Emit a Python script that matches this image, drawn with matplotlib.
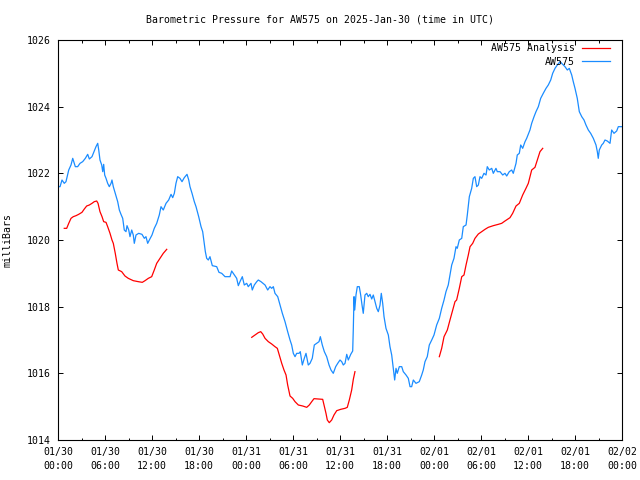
import matplotlib
matplotlib.use('Agg')
import matplotlib.pyplot as plt
from matplotlib.ticker import MultipleLocator

# hours since 2025-01-30 00:00 UTC
obs_hours = [
    0.0, 0.26, 0.51, 0.80, 1.02, 1.37, 1.66, 1.88, 2.08, 2.21, 2.51, 2.81, 3.15, 3.49, 3.79,
    4.00, 4.34, 4.63, 4.85, 5.07, 5.20, 5.36, 5.58, 5.71, 5.83, 5.96, 6.13, 6.34, 6.55, 6.77,
    6.89, 7.06, 7.31, 7.62, 7.83, 8.04, 8.26, 8.46, 8.68, 8.81, 9.03, 9.19, 9.41, 9.61, 9.74,
    9.96, 10.30, 10.72, 11.02, 11.23, 11.45, 11.66, 12.00, 12.29, 12.60, 12.93, 13.15, 13.44,
    13.79, 14.13, 14.43, 14.64, 14.85, 15.06, 15.28, 15.57, 15.83, 16.12, 16.47, 16.69, 16.85,
    17.11, 17.40, 17.62, 17.96, 18.26, 18.47, 18.81, 18.98, 19.19, 19.40, 19.70, 20.26, 20.55,
    20.90, 21.32, 21.96, 22.17, 22.51, 22.81, 23.02, 23.23, 23.53, 23.78, 24.09, 24.29, 24.64,
    24.80, 25.06, 25.37, 25.57, 25.91, 26.43, 26.77, 27.06, 27.28, 27.49, 27.70, 28.05, 28.34,
    28.64, 28.98, 29.32, 29.62, 29.83, 30.04, 30.26, 30.47, 30.77, 30.93, 31.19, 31.44, 31.66,
    31.95, 32.17, 32.46, 32.72, 33.03, 33.32, 33.49, 33.74, 34.00, 34.30, 34.60, 34.85, 35.14,
    35.45, 35.71, 36.00, 36.22, 36.42, 36.64, 36.86, 37.06, 37.37, 37.62, 37.70, 37.79, 37.88,
    38.04, 38.21, 38.46, 38.64, 38.81, 38.97, 39.19, 39.41, 39.61, 39.83, 40.05, 40.25, 40.47,
    40.69, 40.89, 41.11, 41.27, 41.45, 41.62, 41.87, 42.17, 42.38, 42.60, 42.80, 42.98, 43.15,
    43.31, 43.57, 43.88, 44.08, 44.43, 44.72, 44.94, 45.15, 45.36, 45.70, 46.12, 46.43, 46.63,
    46.85, 47.14, 47.40, 47.71, 48.00, 48.34, 48.68, 48.98, 49.28, 49.53, 49.82, 50.04, 50.26,
    50.55, 50.81, 50.97, 51.23, 51.54, 51.74, 52.09, 52.25, 52.51, 52.81, 53.02, 53.23, 53.45,
    53.66, 53.87, 54.09, 54.38, 54.64, 54.80, 55.06, 55.37, 55.57, 55.91, 56.08, 56.43, 56.77,
    57.06, 57.28, 57.61, 57.92, 58.12, 58.47, 58.63, 58.89, 59.07, 59.32, 59.62, 59.83, 60.25,
    60.47, 60.77, 61.02, 61.32, 61.62, 61.95, 62.30, 62.59, 62.90, 63.15, 63.45, 63.74, 64.09,
    64.43, 64.72, 65.02, 65.27, 65.58, 65.78, 66.00, 66.29, 66.55, 66.86, 67.15, 67.40, 67.70,
    68.00, 68.34, 68.68, 68.85, 68.97, 69.10, 69.41, 69.61, 69.83, 70.12, 70.47, 70.68, 70.98,
    71.32, 71.53, 71.96,
]
obs_mb = [
    1021.60, 1021.60, 1021.80, 1021.70, 1021.75, 1022.10, 1022.25, 1022.45, 1022.30, 1022.20,
    1022.20, 1022.30, 1022.35, 1022.45, 1022.57, 1022.43, 1022.50, 1022.67, 1022.80, 1022.90,
    1022.70, 1022.40, 1022.25, 1022.05, 1022.27, 1021.95, 1021.85, 1021.70, 1021.60, 1021.70,
    1021.80, 1021.60, 1021.40, 1021.15, 1020.90, 1020.77, 1020.65, 1020.30, 1020.25, 1020.43,
    1020.30, 1020.10, 1020.30, 1020.15, 1019.90, 1020.15, 1020.20, 1020.17, 1020.05, 1020.10,
    1019.90, 1020.00, 1020.15, 1020.35, 1020.50, 1020.75, 1021.00, 1020.90, 1021.10, 1021.20,
    1021.37, 1021.27, 1021.40, 1021.70, 1021.90, 1021.85, 1021.75, 1021.87, 1021.97, 1021.80,
    1021.60, 1021.40, 1021.15, 1021.00, 1020.70, 1020.40, 1020.25, 1019.65, 1019.45, 1019.40,
    1019.50, 1019.23, 1019.20, 1019.03, 1019.00, 1018.90, 1018.90, 1019.07, 1018.95, 1018.85,
    1018.63, 1018.75, 1018.90, 1018.65, 1018.70, 1018.60, 1018.70, 1018.50, 1018.65, 1018.75,
    1018.80, 1018.75, 1018.65, 1018.50, 1018.60, 1018.55, 1018.60, 1018.40, 1018.30, 1018.05,
    1017.80, 1017.55, 1017.25, 1017.00, 1016.85, 1016.60, 1016.50, 1016.60, 1016.60, 1016.65,
    1016.25, 1016.45, 1016.60, 1016.25, 1016.30, 1016.45, 1016.85, 1016.90, 1016.95, 1017.10,
    1016.85, 1016.65, 1016.50, 1016.25, 1016.10, 1016.00, 1016.20, 1016.30, 1016.40, 1016.35,
    1016.25, 1016.30, 1016.57, 1016.40, 1016.57, 1016.67, 1017.35, 1018.30, 1017.90, 1018.35,
    1018.60, 1018.60, 1018.35, 1018.05, 1017.80, 1018.35, 1018.40, 1018.30, 1018.37, 1018.23,
    1018.35, 1018.15, 1017.95, 1017.85, 1018.05, 1018.40, 1018.10, 1017.70, 1017.35, 1017.15,
    1016.80, 1016.55, 1016.15, 1015.80, 1016.15, 1016.00, 1016.20, 1016.20, 1016.05, 1015.95,
    1015.85, 1015.60, 1015.60, 1015.80, 1015.70, 1015.75, 1015.95, 1016.10, 1016.35, 1016.50,
    1016.85, 1017.00, 1017.15, 1017.45, 1017.65, 1017.95, 1018.20, 1018.45, 1018.65, 1018.95,
    1019.25, 1019.45, 1019.80, 1019.75, 1020.00, 1020.05, 1020.40, 1020.45, 1020.75, 1021.30,
    1021.55, 1021.85, 1021.90, 1021.60, 1021.65, 1021.90, 1021.85, 1022.00, 1021.95, 1022.20,
    1022.10, 1022.15, 1022.00, 1022.15, 1022.05, 1022.05, 1021.95, 1022.00, 1021.92, 1022.05,
    1022.10, 1022.00, 1022.30, 1022.55, 1022.60, 1022.85, 1022.75, 1022.95, 1023.05, 1023.30,
    1023.50, 1023.70, 1023.85, 1024.00, 1024.25, 1024.40, 1024.55, 1024.65, 1024.80, 1025.00,
    1025.15, 1025.25, 1025.35, 1025.27, 1025.20, 1025.10, 1025.15, 1024.95, 1024.75, 1024.55,
    1024.25, 1023.85, 1023.70, 1023.60, 1023.45, 1023.30, 1023.20, 1023.05, 1022.85, 1022.65,
    1022.45, 1022.70, 1022.85, 1022.90, 1023.00, 1022.97, 1022.90, 1023.30, 1023.20, 1023.27,
    1023.40, 1023.40,
]

# analysis runs (three separate segments)
ana1_hours = [0.80, 1.11, 1.37, 1.66, 1.95, 2.30, 2.64, 3.06, 3.36, 3.66, 4.00, 4.34, 4.63, 4.94,
              5.11, 5.36, 5.62, 5.83, 6.13, 6.34, 6.64, 6.89, 7.06, 7.31, 7.53, 7.70, 8.13, 8.55,
              8.97, 9.61, 10.25, 10.76, 11.11, 11.53, 11.96, 12.29, 12.60, 13.02, 13.44, 13.88]
ana1_mb = [1020.35, 1020.35, 1020.50, 1020.65, 1020.70, 1020.73, 1020.77, 1020.83, 1020.93,
           1021.02, 1021.05, 1021.10, 1021.15, 1021.17, 1021.10, 1020.85, 1020.70, 1020.55,
           1020.53, 1020.40, 1020.20, 1020.00, 1019.90, 1019.60, 1019.30, 1019.10, 1019.05,
           1018.92, 1018.85, 1018.78, 1018.75, 1018.73, 1018.78, 1018.85, 1018.90, 1019.10,
           1019.30, 1019.45, 1019.60, 1019.72]

ana2_hours = [24.73, 25.15, 25.57, 25.88, 26.13, 26.43, 26.85, 27.28, 27.70, 28.00, 28.25, 28.56,
              28.85, 29.11, 29.32, 29.62, 29.96, 30.26, 30.68, 31.24, 31.75, 32.08, 32.39, 32.68,
              33.23, 33.79, 33.96, 34.21, 34.38, 34.63, 34.94, 35.23, 35.58, 36.09, 36.64, 36.93,
              37.19, 37.49, 37.70, 37.91]
ana2_mb = [1017.08, 1017.15, 1017.22, 1017.25, 1017.18, 1017.05, 1016.95, 1016.88, 1016.80,
           1016.75, 1016.55, 1016.30, 1016.10, 1015.95, 1015.65, 1015.32, 1015.25, 1015.15,
           1015.05, 1015.02, 1014.98, 1015.05, 1015.15, 1015.24, 1015.23, 1015.22, 1015.05,
           1014.80, 1014.60, 1014.52, 1014.60, 1014.75, 1014.88, 1014.92, 1014.95, 1014.98,
           1015.20, 1015.50, 1015.82, 1016.05]

ana3_hours = [48.68, 48.98, 49.28, 49.70, 50.04, 50.39, 50.68, 50.89, 51.23, 51.54, 51.83, 52.09,
              52.38, 52.60, 52.94, 53.23, 53.66, 54.09, 54.51, 54.93, 55.57, 56.21, 56.64, 57.06,
              57.70, 58.04, 58.47, 58.89, 59.32, 59.74, 60.04, 60.47, 60.89, 61.19, 61.53, 61.88]
ana3_mb = [1016.50, 1016.75, 1017.10, 1017.30, 1017.60, 1017.90, 1018.15, 1018.20, 1018.55,
           1018.90, 1018.95, 1019.25, 1019.55, 1019.80, 1019.90, 1020.05, 1020.18, 1020.25,
           1020.32, 1020.38, 1020.43, 1020.47, 1020.50, 1020.57, 1020.67, 1020.80, 1021.02,
           1021.10, 1021.35, 1021.55, 1021.70, 1022.10, 1022.18, 1022.40, 1022.65, 1022.75]

tick_hours = list(range(0, 73, 6))
tick_labels = ['01/30\n00:00', '01/30\n06:00', '01/30\n12:00', '01/30\n18:00',
               '01/31\n00:00', '01/31\n06:00', '01/31\n12:00', '01/31\n18:00',
               '02/01\n00:00', '02/01\n06:00', '02/01\n12:00', '02/01\n18:00',
               '02/02\n00:00']

red = '#ff0000'
blue = '#1a8cff'
fs = 7.1

plt.rcParams['font.family'] = ['DejaVu Sans Mono']

fig = plt.figure(figsize=(6.4, 4.8), dpi=100)
ax = fig.add_axes([58 / 640, 40 / 480, 564 / 640, 400 / 480])

ax.plot(ana1_hours, ana1_mb, color=red, lw=0.9, label='AW575 Analysis')
ax.plot(ana2_hours, ana2_mb, color=red, lw=0.9)
ax.plot(ana3_hours, ana3_mb, color=red, lw=0.9)
ax.plot(obs_hours, obs_mb, color=blue, lw=0.9, label='AW575')

ax.set_xlim(0, 72)
ax.set_ylim(1014, 1026)
ax.set_xticks(tick_hours)
ax.set_xticklabels(tick_labels, fontsize=fs, linespacing=1.45)
ax.xaxis.set_minor_locator(MultipleLocator(3))
ax.set_yticks(range(1014, 1027, 2))
ax.tick_params(axis='both', which='major', direction='in', length=3.6, width=0.7,
               top=True, right=True, labelsize=fs)
ax.tick_params(axis='x', which='major', pad=5)
ax.tick_params(axis='y', which='major', pad=5)
ax.tick_params(axis='x', which='minor', direction='in', length=1.8, width=0.7,
               top=True, bottom=True)
for s in ax.spines.values():
    s.set_linewidth(0.8)

ax.set_ylabel('milliBars', fontsize=fs, va='center')
ax.yaxis.set_label_coords(-50 / 564, 0.5)
fig.text(0.5, 1 - 20 / 480, 'Barometric Pressure for AW575 on 2025-Jan-30 (time in UTC)',
         ha='center', va='center', fontsize=fs)

ax.legend(loc='upper right', bbox_to_anchor=(0.9787, 0.992), frameon=False,
          markerfirst=False, fontsize=fs, handlelength=2.85, handletextpad=0.7,
          borderpad=0, borderaxespad=0, labelspacing=0.35)

fig.savefig('out.png', dpi=100)
